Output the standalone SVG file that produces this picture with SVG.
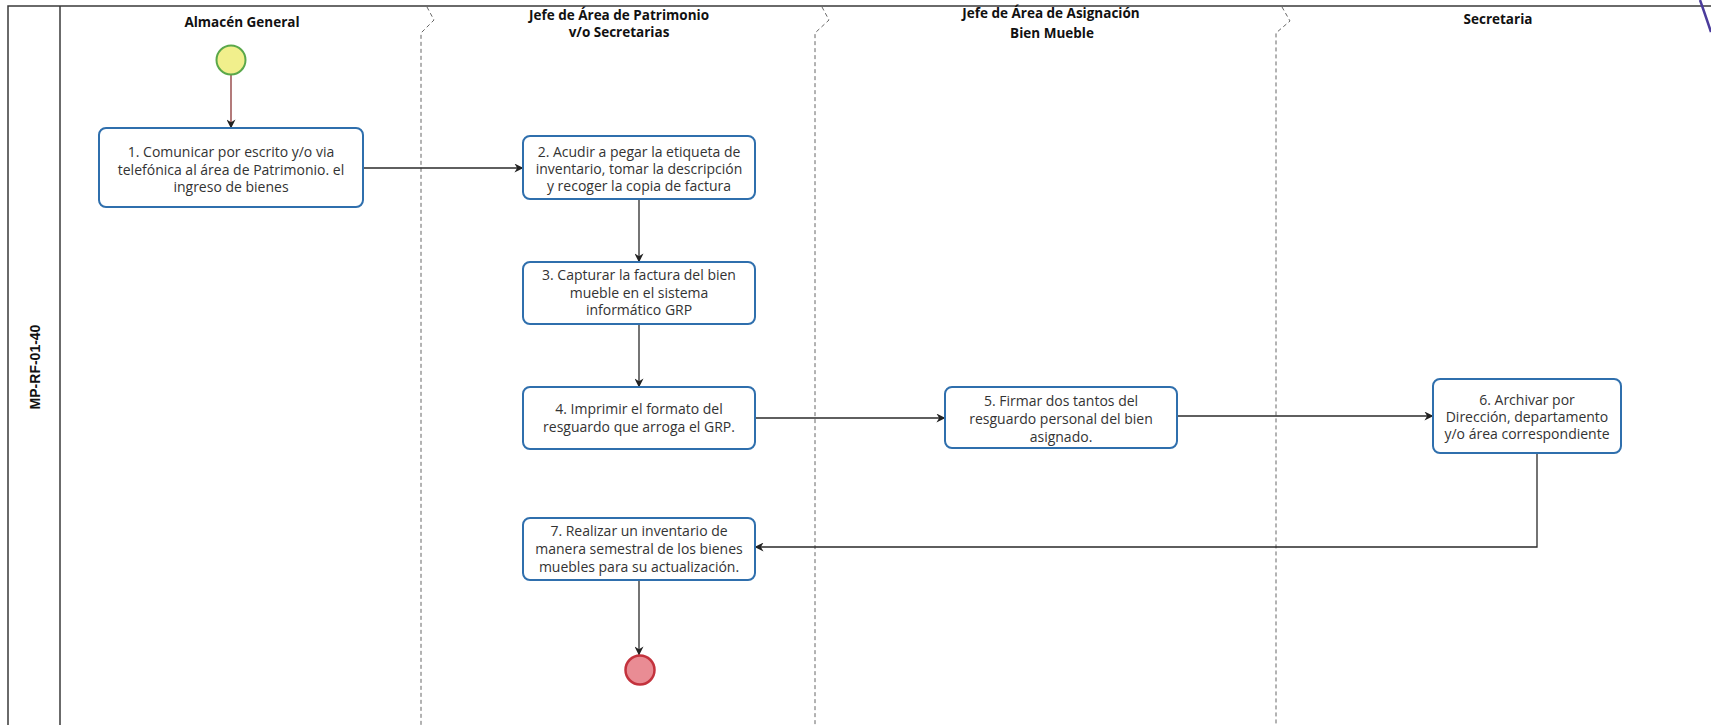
<svg xmlns="http://www.w3.org/2000/svg" width="1711" height="725" viewBox="0 0 1711 725">
  <style>
    .frame { fill: none; stroke: #3a3a3a; stroke-width: 1.5; }
    .lane { fill: none; stroke: #666; stroke-width: 1; stroke-dasharray: 4 3; }
    .head { font-family: "Open Sans", "Liberation Sans", sans-serif; font-weight: bold; font-size: 13.5px; fill: #111; text-anchor: middle; }
    .pool { font-family: "Liberation Sans", Arial, sans-serif; font-weight: bold; font-size: 14px; fill: #111; text-anchor: middle; }
    .task rect { fill: #fff; stroke: #2f6fad; stroke-width: 2; }
    .task text { font-family: "Open Sans", "Liberation Sans", sans-serif; font-size: 14px; fill: #333; text-anchor: middle; }
    .flow { fill: none; stroke: #2a2a2a; stroke-width: 1.3; marker-end: url(#arrow); }
  </style>
  <defs>
    <marker id="arrow" viewBox="0 0 10 10" refX="9.5" refY="5" markerWidth="9" markerHeight="9" markerUnits="userSpaceOnUse" orient="auto">
      <path d="M0,0 L10,5 L0,10 L3,5 z" fill="#222"/>
    </marker>
  </defs>

  <rect width="1711" height="725" fill="#fff"/>

  <!-- pool frame and lane separators -->
  <g id="pool">
    <path class="frame" d="M8,725 V6 H1711"/>
    <path class="frame" d="M60,6 V725"/>
    <text class="pool" transform="translate(40,367) rotate(-90)">MP-RF-01-40</text>
    <path class="lane" d="M427,7 L434,20 L421,33 V725"/>
    <path class="lane" d="M822,7 L829,20 L815,33 V725"/>
    <path class="lane" d="M1282,7 L1290,21 L1276,33 V725"/>
  </g>

  <!-- lane headers -->
  <g id="lane-headers">
    <text class="head" x="242" y="27">Almacén General</text>
    <text class="head" x="619" y="20">Jefe de Área de Patrimonio</text>
    <text class="head" x="619" y="37">v/o Secretarias</text>
    <text class="head" x="1051" y="18">Jefe de Área de Asignación</text>
    <text class="head" x="1052" y="38">Bien Mueble</text>
    <text class="head" x="1498" y="24">Secretaria</text>
  </g>

  <!-- connectors -->
  <g id="connectors">
    <path d="M231,75 V128" fill="none" stroke="#8a3434" stroke-width="1.3" marker-end="url(#arrow)"/>
    <path class="flow" d="M363,168 H523"/>
    <path class="flow" d="M639,199 V262"/>
    <path class="flow" d="M639,324 V387"/>
    <path class="flow" d="M755,418 H945"/>
    <path class="flow" d="M1177,416 H1433"/>
    <path class="flow" d="M1537,453 V547 H755"/>
    <path class="flow" d="M639,580 V655"/>
  </g>

  <!-- events -->
  <g id="start">
    <circle cx="231" cy="60" r="14.5" fill="#f1ef8c" stroke="#5aa84a" stroke-width="2"/>
  </g>
  <g id="end">
    <circle cx="640" cy="670" r="14.5" fill="#e98c94" stroke="#c3323d" stroke-width="2.5"/>
  </g>

  <!-- tasks -->
  <g id="task1" class="task">
    <rect x="99" y="128" width="264" height="79" rx="7"/>
    <text x="231" y="157">1. Comunicar por escrito y/o via</text>
    <text x="231" y="175">telefónica al área de Patrimonio. el</text>
    <text x="231" y="192">ingreso de bienes</text>
  </g>
  <g id="task2" class="task">
    <rect x="523" y="136" width="232" height="63" rx="7"/>
    <text x="639" y="157">2. Acudir a pegar la etiqueta de</text>
    <text x="639" y="174">inventario, tomar la descripción</text>
    <text x="639" y="191">y recoger la copia de factura</text>
  </g>
  <g id="task3" class="task">
    <rect x="523" y="262" width="232" height="62" rx="7"/>
    <text x="639" y="280">3. Capturar la factura del bien</text>
    <text x="639" y="298">mueble en el sistema</text>
    <text x="639" y="315">informático GRP</text>
  </g>
  <g id="task4" class="task">
    <rect x="523" y="387" width="232" height="62" rx="7"/>
    <text x="639" y="414">4. Imprimir el formato del</text>
    <text x="639" y="432">resguardo que arroga el GRP.</text>
  </g>
  <g id="task5" class="task">
    <rect x="945" y="387" width="232" height="61" rx="7"/>
    <text x="1061" y="406">5.  Firmar dos tantos del</text>
    <text x="1061" y="424">resguardo personal del bien</text>
    <text x="1061" y="442">asignado.</text>
  </g>
  <g id="task6" class="task">
    <rect x="1433" y="379" width="188" height="74" rx="7"/>
    <text x="1527" y="405">6. Archivar por</text>
    <text x="1527" y="422">Dirección, departamento</text>
    <text x="1527" y="439">y/o área correspondiente</text>
  </g>
  <g id="task7" class="task">
    <rect x="523" y="518" width="232" height="62" rx="7"/>
    <text x="639" y="536">7. Realizar un inventario de</text>
    <text x="639" y="554">manera semestral de los bienes</text>
    <text x="639" y="572">muebles para su actualización.</text>
  </g>

  <!-- ink stroke in the top right corner -->
  <path d="M1700,0 Q1705,14 1711,32" fill="none" stroke="#4b3c9c" stroke-width="2.5"/>
</svg>
